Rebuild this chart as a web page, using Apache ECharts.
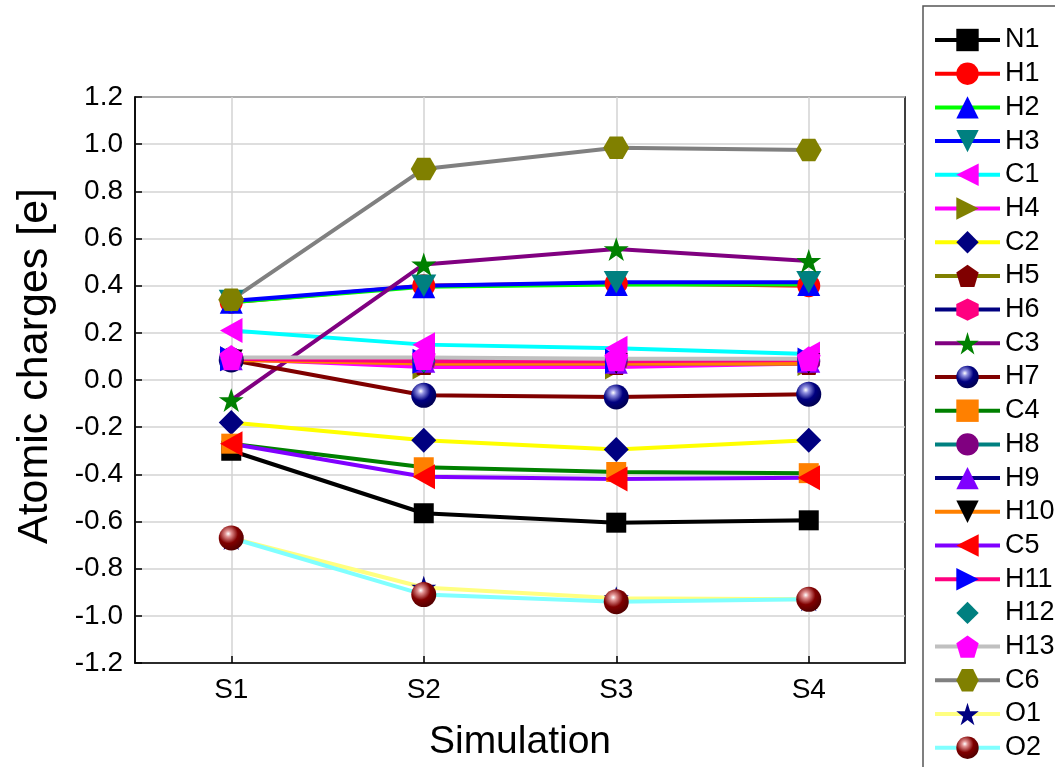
<!DOCTYPE html>
<html>
<head>
<meta charset="utf-8">
<script src="https://cdn.jsdelivr.net/npm/echarts@6/dist/echarts.min.js"></script>
<style>html,body{margin:0;padding:0;background:#fff;}#c{width:1055px;height:767px;}</style>
</head>
<body>
<div id="c"></div>
<script>
// ---- data ----
const categories = ['S1', 'S2', 'S3', 'S4'];
const seriesNames = ['N1','H1','H2','H3','C1','H4','C2','H5','H6','C3','H7','C4','H8','H9','H10','C5','H11','H12','H13','C6','O1','O2'];
const N1  = [-0.30, -0.565, -0.605, -0.595];
const H1  = [0.33, 0.40, 0.41, 0.40];
const H2  = [0.33, 0.395, 0.405, 0.405];
const H3  = [0.335, 0.40, 0.415, 0.415];
const C1  = [0.21, 0.15, 0.135, 0.11];
const H4  = [0.09, 0.055, 0.055, 0.07];
const C2  = [-0.18, -0.255, -0.295, -0.255];
const H5  = [0.09, 0.07, 0.07, 0.07];
const H6  = [0.09, 0.08, 0.08, 0.08];
const C3  = [-0.085, 0.49, 0.555, 0.505];
const H7  = [0.085, -0.065, -0.072, -0.06];
const C4  = [-0.27, -0.37, -0.39, -0.395];
const H8  = [0.09, 0.08, 0.08, 0.08];
const H9  = [0.09, 0.08, 0.075, 0.08];
const H10 = [0.085, 0.07, 0.07, 0.07];
const C5  = [-0.27, -0.41, -0.42, -0.415];
const H11 = [0.09, 0.08, 0.08, 0.085];
const H12 = [0.09, 0.08, 0.085, 0.085];
const H13 = [0.095, 0.095, 0.09, 0.09];
const C6  = [0.34, 0.895, 0.985, 0.975];
const O1  = [-0.67, -0.88, -0.925, -0.93];
const O2  = [-0.67, -0.91, -0.94, -0.93];
const seriesValues = [N1,H1,H2,H3,C1,H4,C2,H5,H6,C3,H7,C4,H8,H9,H10,C5,H11,H12,H13,C6,O1,O2];

// ---- styles ----
const SYM = {
  square: 'rect',
  circle: 'circle',
  up: 'triangle',
  down: 'path://M0,0 L100,0 L50,90 Z',
  left: 'path://M90,0 L90,100 L0,50 Z',
  right: 'path://M0,0 L90,50 L0,100 Z',
  diamond: 'diamond',
  pentagon: 'path://M50,0 L97.6,34.5 L79.4,100 L20.6,100 L2.4,34.5 Z',
  hexFlat: 'path://M0,43.3 L25,0 L75,0 L100,43.3 L75,86.6 L25,86.6 Z',
  hexPoint: 'path://M43.3,0 L86.6,25 L86.6,75 L43.3,100 L0,75 L0,25 Z',
  star: 'path://M50,0 L61.2,34.5 L97.6,34.5 L68.2,55.9 L79.4,90.5 L50,69.1 L20.6,90.5 L31.8,55.9 L2.4,34.5 L38.8,34.5 Z'
};
function sphere(c, light, dark) {
  return { type: 'radial', x: 0.38, y: 0.33, r: 0.7,
    colorStops: [{offset: 0, color: '#ffffff'}, {offset: 0.18, color: light}, {offset: 0.55, color: c}, {offset: 1, color: dark}] };
}
const styles = [
  ['#000000', '#000000', 'square', 20],
  ['#ff0000', '#ff0000', 'circle', 23],
  ['#00ff00', '#0000ff', 'up', 23],
  ['#0000ff', '#008080', 'down', 25],
  ['#00ffff', '#ff00ff', 'left', 25],
  ['#ff00ff', '#808000', 'right', 25],
  ['#ffff00', '#000080', 'diamond', 25],
  ['#808000', '#800000', 'pentagon', 23],
  ['#000080', '#ff0080', 'hexPoint', 23],
  ['#800080', '#008000', 'star', 25],
  ['#800000', sphere('#000080', '#9090e0', '#000050'), 'circle', 25],
  ['#008000', '#ff8000', 'square', 20],
  ['#008080', '#800080', 'circle', 23],
  ['#000080', '#8000ff', 'up', 23],
  ['#ff8000', '#000000', 'down', 23],
  ['#8000ff', '#ff0000', 'left', 25],
  ['#ff0080', '#0000ff', 'right', 25],
  [null, '#008080', 'diamond', 23],
  ['#c0c0c0', '#ff00ff', 'pentagon', 25],
  ['#808080', '#808000', 'hexFlat', 26],
  ['#ffff80', '#000080', 'star', 25],
  ['#80ffff', sphere('#800000', '#e09090', '#500000'), 'circle', 25]
];

const FONT = "'Liberation Sans', Arial, sans-serif";
const series = seriesNames.map((name, i) => {
  const st = styles[i];
  return {
    name: name,
    type: 'line',
    data: seriesValues[i],
    symbol: SYM[st[2]],
    symbolSize: st[3],
    symbolKeepAspect: true,
    showAllSymbol: true,
    lineStyle: st[0] ? { color: st[0], width: 4 } : { width: 0, opacity: 0 },
    itemStyle: { color: st[1] },
    emphasis: { disabled: true },
    animation: false
  };
});

const legendData = seriesNames.map((name, i) => {
  const item = { name: name };
  if (!styles[i][0]) item.lineStyle = { opacity: 0, width: 0 };
  return item;
});

const chart = echarts.init(document.getElementById('c'));
chart.setOption({
  animation: false,
  backgroundColor: '#fff',
  textStyle: { fontFamily: FONT },
  grid: { left: 135, right: 150, top: 97, bottom: 104, show: true, borderColor: '#000', borderWidth: 1.5, backgroundColor: 'transparent' },
  legend: {
    orient: 'vertical',
    left: 923, top: 6, height: 900,
    padding: [20, 40, 30, 10],
    borderColor: '#555', borderWidth: 1.5,
    itemWidth: 65, itemHeight: 28, itemGap: 5.7,
    textStyle: { fontSize: 27, color: '#000', fontFamily: FONT, lineHeight: 28 },
    lineStyle: { width: 4 },
    data: legendData,
    selectedMode: false
  },
  xAxis: {
    type: 'category',
    data: categories,
    boundaryGap: true,
    name: 'Simulation',
    nameLocation: 'middle',
    nameGap: 60,
    nameTextStyle: { fontSize: 39, color: '#000', fontFamily: FONT },
    axisLine: { onZero: false, lineStyle: { color: '#000', width: 1.5 } },
    axisTick: { show: true, inside: true, alignWithLabel: true, length: 7, lineStyle: { color: '#000', width: 1.5 } },
    axisLabel: { fontSize: 28, color: '#000', margin: 13, fontFamily: FONT },
    splitLine: { show: true, alignWithLabel: true, lineStyle: { color: '#d3d3d3', width: 1.5 } }
  },
  yAxis: {
    type: 'value',
    min: -1.2, max: 1.2, interval: 0.2,
    name: 'Atomic charges [e]',
    nameLocation: 'middle',
    nameGap: 78,
    nameTextStyle: { fontSize: 43, color: '#000', fontFamily: FONT, padding: [0, 0, 0, 28] },
    axisLine: { show: true, lineStyle: { color: '#000', width: 1.5 } },
    axisTick: { show: true, inside: true, length: 7, lineStyle: { color: '#000', width: 1.5 } },
    axisLabel: { fontSize: 28, color: '#000', margin: 12, fontFamily: FONT,
      formatter: v => (Math.abs(v) < 1e-9 ? '0.0' : v.toFixed(1)) },
    splitLine: { show: true, lineStyle: { color: '#d3d3d3', width: 1.5 } }
  },
  series: series
});
</script>
</body>
</html>
